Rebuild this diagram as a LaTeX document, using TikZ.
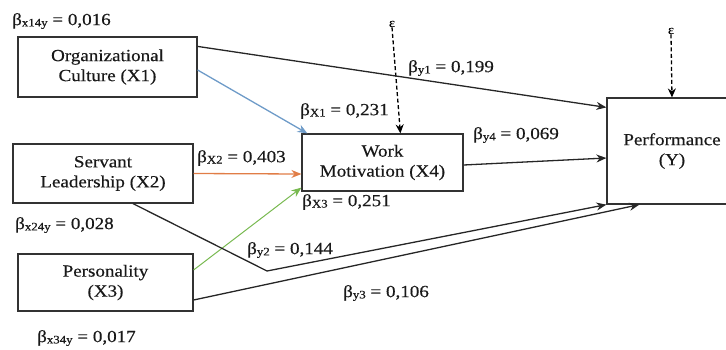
\documentclass[tikz,border=0pt]{standalone}
\usepackage{fontspec}
\setmainfont{Liberation Serif}[FakeStretch=1.12,FakeBold=0.4]
\usetikzlibrary{arrows.meta,calc}
\definecolor{boxline}{RGB}{50,50,50}
\definecolor{txt}{RGB}{25,25,25}
\definecolor{blueln}{RGB}{110,155,200}
\definecolor{orangeln}{RGB}{225,125,70}
\definecolor{greenln}{RGB}{120,185,80}
\newcommand\bsb[1]{β{\fontsize{11.5}{11.5}\selectfont\raisebox{-0.25ex}{#1}}}
\begin{document}
\begin{tikzpicture}[x=1pt,y=-1pt,
  font=\fontsize{17}{20}\selectfont\color{txt},
  varbox/.style={draw=boxline,line width=1.2pt,align=center,inner sep=0pt},
  coef/.style={anchor=west,inner sep=0pt},
  conn/.style={line width=1.3pt,draw=black!85,-{Stealth[length=10pt,width=8pt]}},
  errarr/.style={line width=1.3pt,dashed,dash pattern=on 4pt off 2.5pt,-{Stealth[length=9pt,width=8pt]}},
  epsn/.style={inner sep=0pt,font=\fontsize{13}{13}\selectfont}]
\useasboundingbox (0,0) rectangle (726,349);
% boxes
\node[varbox,minimum width=179pt,minimum height=60pt] (X1) at (107.5,67) {Organizational\\Culture (X1)};
\node[varbox,minimum width=180pt,minimum height=59pt] (X2) at (103,173.5) {Servant\\Leadership (X2)};
\node[varbox,minimum width=175pt,minimum height=57pt] (X3) at (105.5,282.5) {Personality\\(X3)};
\node[varbox,minimum width=161pt,minimum height=57pt] (X4) at (382.5,162.5) {Work\\Motivation (X4)};
\node[varbox,minimum width=130pt,minimum height=106pt] (Y) at (672,151) {Performance\\(Y)};
% error terms
\node[epsn] (e1) at (392,24) {ε};
\node[epsn] (e2) at (671,31) {ε};
\coordinate (e1end) at ([xshift=99pt]X4.north west);
\draw[errarr] (e1.south) -- (e1end);
\draw[errarr] (e2.south) -- (Y.north);
% connectors
\draw[conn] ([yshift=-10pt]X1.north east) -- ([yshift=-10pt]Y.north west);
\draw[conn,draw=blueln,color=blueln] ([yshift=-3pt]X1.east) -- ([xshift=6pt]X4.north west);
\draw[conn,draw=orangeln,color=orangeln] (X2.east) -- ([yshift=-11.5pt]X4.west);
\draw[conn,draw=greenln,color=greenln,line width=1pt] ([yshift=12.5pt]X3.east) -- ([yshift=4pt]X4.south west);
\draw[conn] ([yshift=-2.5pt]X4.east) -- ([yshift=-7pt]Y.west);
\coordinate (v) at (267,271);
\draw[conn] ([xshift=30pt]X2.south) -- (v) -- (Y.south west);
\draw[conn] ([yshift=-17.5pt]X3.east) -- ([xshift=33pt]Y.south west);
% coefficients
\node[coef] (c1) at (12,21) {\bsb{x14y} = 0,016};
\node[coef] (c2) at (408,68) {\bsb{y1} = 0,199};
\node[coef] (c3) at (300,111) {\bsb{X1} = 0,231};
\node[coef] (c4) at (197,158) {\bsb{X2} = 0,403};
\node[coef] (c5) at (473,135) {\bsb{y4} = 0,069};
\node[coef] (c6) at (302,202) {\bsb{X3} = 0,251};
\node[coef] (c7) at (15,225) {\bsb{x24y} = 0,028};
\node[coef] (c8) at (247,250) {\bsb{y2} = 0,144};
\node[coef] (c9) at (343,293) {\bsb{y3} = 0,106};
\node[coef] (c10) at (37,338) {\bsb{x34y} = 0,017};
\end{tikzpicture}
\end{document}
